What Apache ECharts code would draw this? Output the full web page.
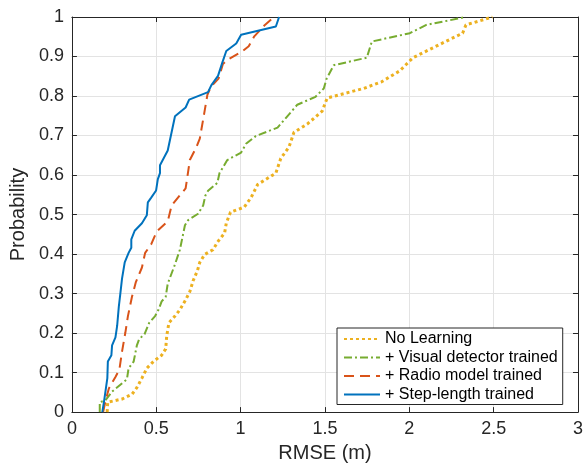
<!DOCTYPE html>
<html>
<head>
<meta charset="utf-8">
<script src="https://cdn.jsdelivr.net/npm/echarts@6/dist/echarts.min.js"></script>
<style>
  html, body { margin: 0; padding: 0; background: #fff; }
  #chart { width: 586px; height: 468px; }
</style>
</head>
<body>
<div id="chart"></div>
<script>
// legend names, in draw order
const seriesNames = ['No Learning', '+ Visual detector trained', '+ Radio model trained', '+ Step-length trained'];

// CDF points: [RMSE (m), probability]
const noLearning = [
  [0.209, 0], [0.212, 0.025], [0.297, 0.033], [0.356, 0.045], [0.385, 0.062], [0.415, 0.086],
  [0.444, 0.111], [0.483, 0.128], [0.532, 0.144], [0.556, 0.16], [0.562, 0.193], [0.575, 0.226],
  [0.611, 0.243], [0.64, 0.259], [0.674, 0.284], [0.699, 0.305], [0.719, 0.333], [0.744, 0.358],
  [0.758, 0.379], [0.787, 0.399], [0.836, 0.411], [0.866, 0.432], [0.905, 0.453], [0.915, 0.478],
  [0.94, 0.506], [1.022, 0.519], [1.062, 0.543], [1.101, 0.576], [1.209, 0.605], [1.238, 0.642],
  [1.287, 0.671], [1.316, 0.708], [1.395, 0.729], [1.484, 0.762], [1.513, 0.795], [1.728, 0.819],
  [1.836, 0.836], [1.944, 0.864], [2.022, 0.897], [2.14, 0.922], [2.258, 0.947], [2.316, 0.959],
  [2.336, 0.98], [2.493, 1.0]
];
const visualTrained = [
  [0.165, 0], [0.165, 0.025], [0.199, 0.03], [0.238, 0.052], [0.326, 0.083], [0.336, 0.111],
  [0.366, 0.128], [0.385, 0.169], [0.399, 0.185], [0.43, 0.197], [0.458, 0.226], [0.493, 0.243],
  [0.513, 0.259], [0.532, 0.28], [0.556, 0.292], [0.568, 0.325], [0.611, 0.374], [0.64, 0.411],
  [0.67, 0.473], [0.689, 0.486], [0.748, 0.502], [0.778, 0.523], [0.791, 0.548], [0.807, 0.56],
  [0.862, 0.58], [0.875, 0.605], [0.921, 0.638], [1.003, 0.657], [1.032, 0.679], [1.091, 0.699],
  [1.219, 0.72], [1.336, 0.778], [1.444, 0.798], [1.493, 0.819], [1.509, 0.843], [1.552, 0.878],
  [1.748, 0.897], [1.778, 0.938], [2.003, 0.959], [2.101, 0.98], [2.336, 1.0]
];
const radioTrained = [
  [0.185, 0], [0.2, 0.03], [0.219, 0.06], [0.258, 0.089], [0.281, 0.107], [0.297, 0.153],
  [0.317, 0.202], [0.332, 0.243], [0.356, 0.292], [0.379, 0.329], [0.415, 0.366], [0.434, 0.403],
  [0.469, 0.424], [0.503, 0.457], [0.556, 0.478], [0.572, 0.49], [0.591, 0.523], [0.646, 0.552],
  [0.674, 0.566], [0.685, 0.597], [0.699, 0.638], [0.738, 0.671], [0.758, 0.692], [0.783, 0.753],
  [0.803, 0.803], [0.823, 0.823], [0.869, 0.844], [0.895, 0.881], [0.928, 0.893], [1.013, 0.914],
  [1.048, 0.926], [1.081, 0.951], [1.144, 0.98], [1.199, 1.0]
];
const stepTrained = [
  [0.18, 0], [0.19, 0.026], [0.21, 0.086], [0.213, 0.128], [0.234, 0.144], [0.238, 0.169],
  [0.258, 0.189], [0.268, 0.218], [0.278, 0.267], [0.287, 0.3], [0.297, 0.338], [0.313, 0.379],
  [0.336, 0.403], [0.352, 0.416], [0.352, 0.437], [0.372, 0.459], [0.415, 0.478], [0.444, 0.498],
  [0.45, 0.531], [0.47, 0.543], [0.499, 0.561], [0.509, 0.589], [0.522, 0.605], [0.522, 0.625],
  [0.568, 0.662], [0.611, 0.749], [0.674, 0.771], [0.695, 0.791], [0.807, 0.81], [0.826, 0.827],
  [0.866, 0.851], [0.891, 0.884], [0.915, 0.914], [0.974, 0.933], [1.003, 0.955], [1.209, 0.976],
  [1.228, 1.0]
];

const axisColor = '#262626';
const fontFam = '"Liberation Sans", Arial, Helvetica, sans-serif';

let myChart = echarts.init(document.getElementById('chart'));

function frameAxis(pos, max, interval, main) {
  return {
    type: 'value',
    position: pos,
    min: 0,
    max: max,
    interval: interval,
    axisLine: { show: true, onZero: false, lineStyle: { color: axisColor, width: 1 } },
    axisTick: { show: true, inside: true, length: 5, lineStyle: { color: axisColor } },
    axisLabel: {
      show: main, margin: 8, color: axisColor, fontSize: 18, fontFamily: fontFam
    },
    splitLine: { show: main, lineStyle: { color: '#e3e3e3', width: 1 } }
  };
}

let xMain = frameAxis('bottom', 3, 0.5, true);
xMain.name = 'RMSE (m)';
xMain.nameLocation = 'middle';
xMain.nameGap = 27;
xMain.nameTextStyle = { color: axisColor, fontSize: 20, fontFamily: fontFam };

let yMain = frameAxis('left', 1, 0.1, true);
yMain.name = 'Probability';
yMain.nameLocation = 'middle';
yMain.nameGap = 41;
yMain.nameTextStyle = { color: axisColor, fontSize: 20, fontFamily: fontFam };

let option = {
  animation: false,
  backgroundColor: '#fff',
  grid: { left: 70, right: 8, top: 17, bottom: 47, containLabel: false },
  xAxis: [xMain, frameAxis('top', 3, 0.5, false)],
  yAxis: [yMain, frameAxis('right', 1, 0.1, false)],
  legend: {
    orient: 'vertical',
    left: 337,
    top: 328,
    padding: [3, 5, 2, 6],
    itemWidth: 36,
    itemHeight: 14,
    itemGap: 2.5,
    backgroundColor: '#fff',
    borderColor: axisColor,
    borderWidth: 1,
    borderRadius: 0,
    // line only, no marker on the legend samples
    itemStyle: { opacity: 0 },
    textStyle: { color: '#000', fontSize: 16, lineHeight: 16, fontFamily: fontFam },
    data: seriesNames
  },
  series: [
    {
      name: seriesNames[0], type: 'line', data: noLearning,
      symbol: 'none', color: '#EDB120',
      lineStyle: { color: '#EDB120', width: 3, type: [3, 3], cap: 'butt' }
    },
    {
      name: seriesNames[1], type: 'line', data: visualTrained,
      symbol: 'none', color: '#77AC30',
      lineStyle: { color: '#77AC30', width: 2, type: [8, 3, 2, 3] }
    },
    {
      name: seriesNames[2], type: 'line', data: radioTrained,
      symbol: 'none', color: '#D95319',
      lineStyle: { color: '#D95319', width: 2, type: [10, 6] }
    },
    {
      name: seriesNames[3], type: 'line', data: stepTrained,
      symbol: 'none', color: '#0072BD',
      lineStyle: { color: '#0072BD', width: 2 }
    }
  ]
};

myChart.setOption(option);
</script>
</body>
</html>
